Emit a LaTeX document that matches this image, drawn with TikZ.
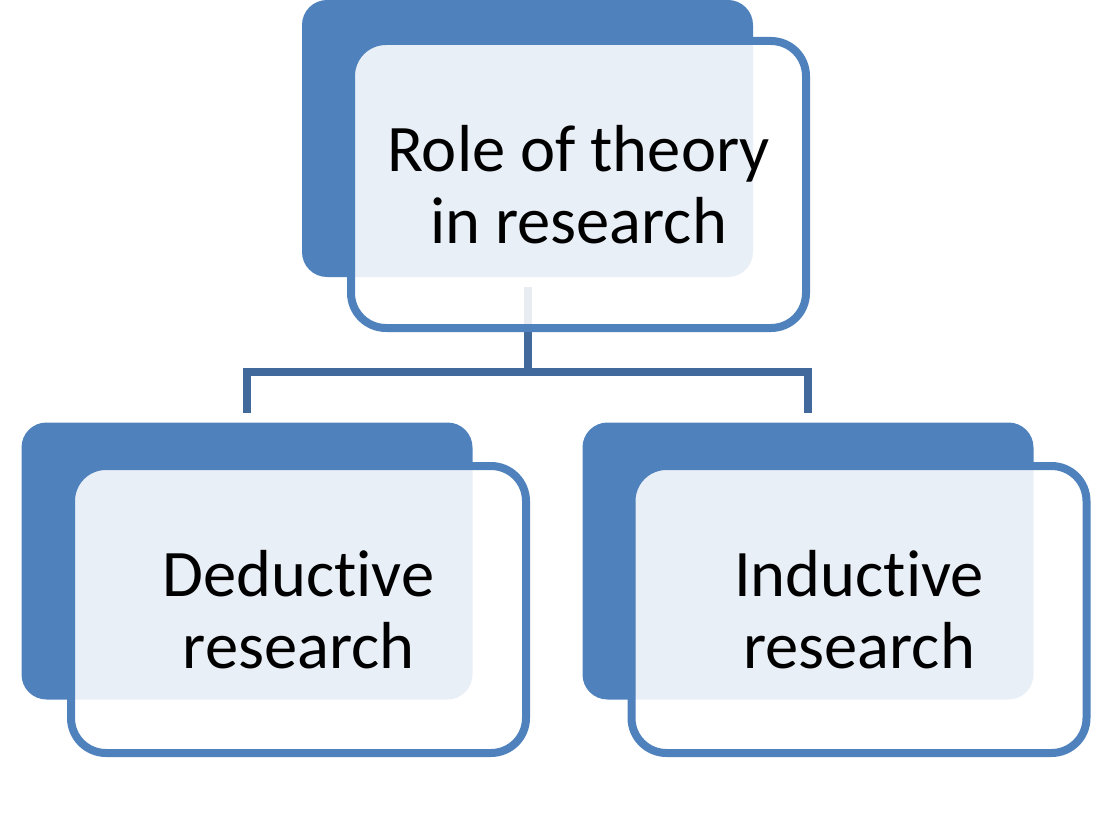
\documentclass[tikz,border=0pt]{standalone}
\usepackage{fontspec}
\setmainfont[Ligatures=NoCommon]{Carlito}
\usepackage{xcolor}
\usepackage{tikz}
\definecolor{boxblue}{RGB}{79,129,189}
\definecolor{linkblue}{RGB}{65,105,155}
% keep t and i apart (no ligature)
\newcommand{\tisep}{\kern0pt}

\tikzset{
  backbox/.style={fill=boxblue, rounded corners=25pt, inner sep=0pt, outer sep=0pt,
    minimum width=451pt, minimum height=277pt},
  frontbox/.style={draw=boxblue, line width=8pt, fill=white, fill opacity=0.88, text opacity=1,
    rounded corners=35pt, inner sep=0pt, outer sep=0pt, minimum width=455pt, minimum height=287pt,
    align=center, font=\fontsize{66.5}{72}\selectfont},
  link/.style={draw=linkblue, line width=8pt}
}

\begin{document}
\begin{tikzpicture}[x=1pt,y=-1pt]
	\useasboundingbox (0,0) rectangle (1106,813);

	% back plates
	\node[backbox] (roleback) at (527.5,138.5) {};
	\node[backbox] (dedback) at (247,561) {};
	\node[backbox] (indback) at (808,561) {};

	% tree links
	\coordinate (split) at (527.5,372);
	\draw[link] ([yshift=-10pt]roleback.south) -- (split);
	\draw[link] ([yshift=10pt]dedback.north) |- (split) -| ([yshift=10pt]indback.north);

	% front cards
	\node[frontbox] (role) at (578.5,184.5) {Role of theory\\in research};
	\node[frontbox] (ded) at (298.5,609.5) {Deduct\tisep ive\\research};
	\node[frontbox] (ind) at (859,609.5) {Induct\tisep ive\\research};

\end{tikzpicture}
\end{document}
